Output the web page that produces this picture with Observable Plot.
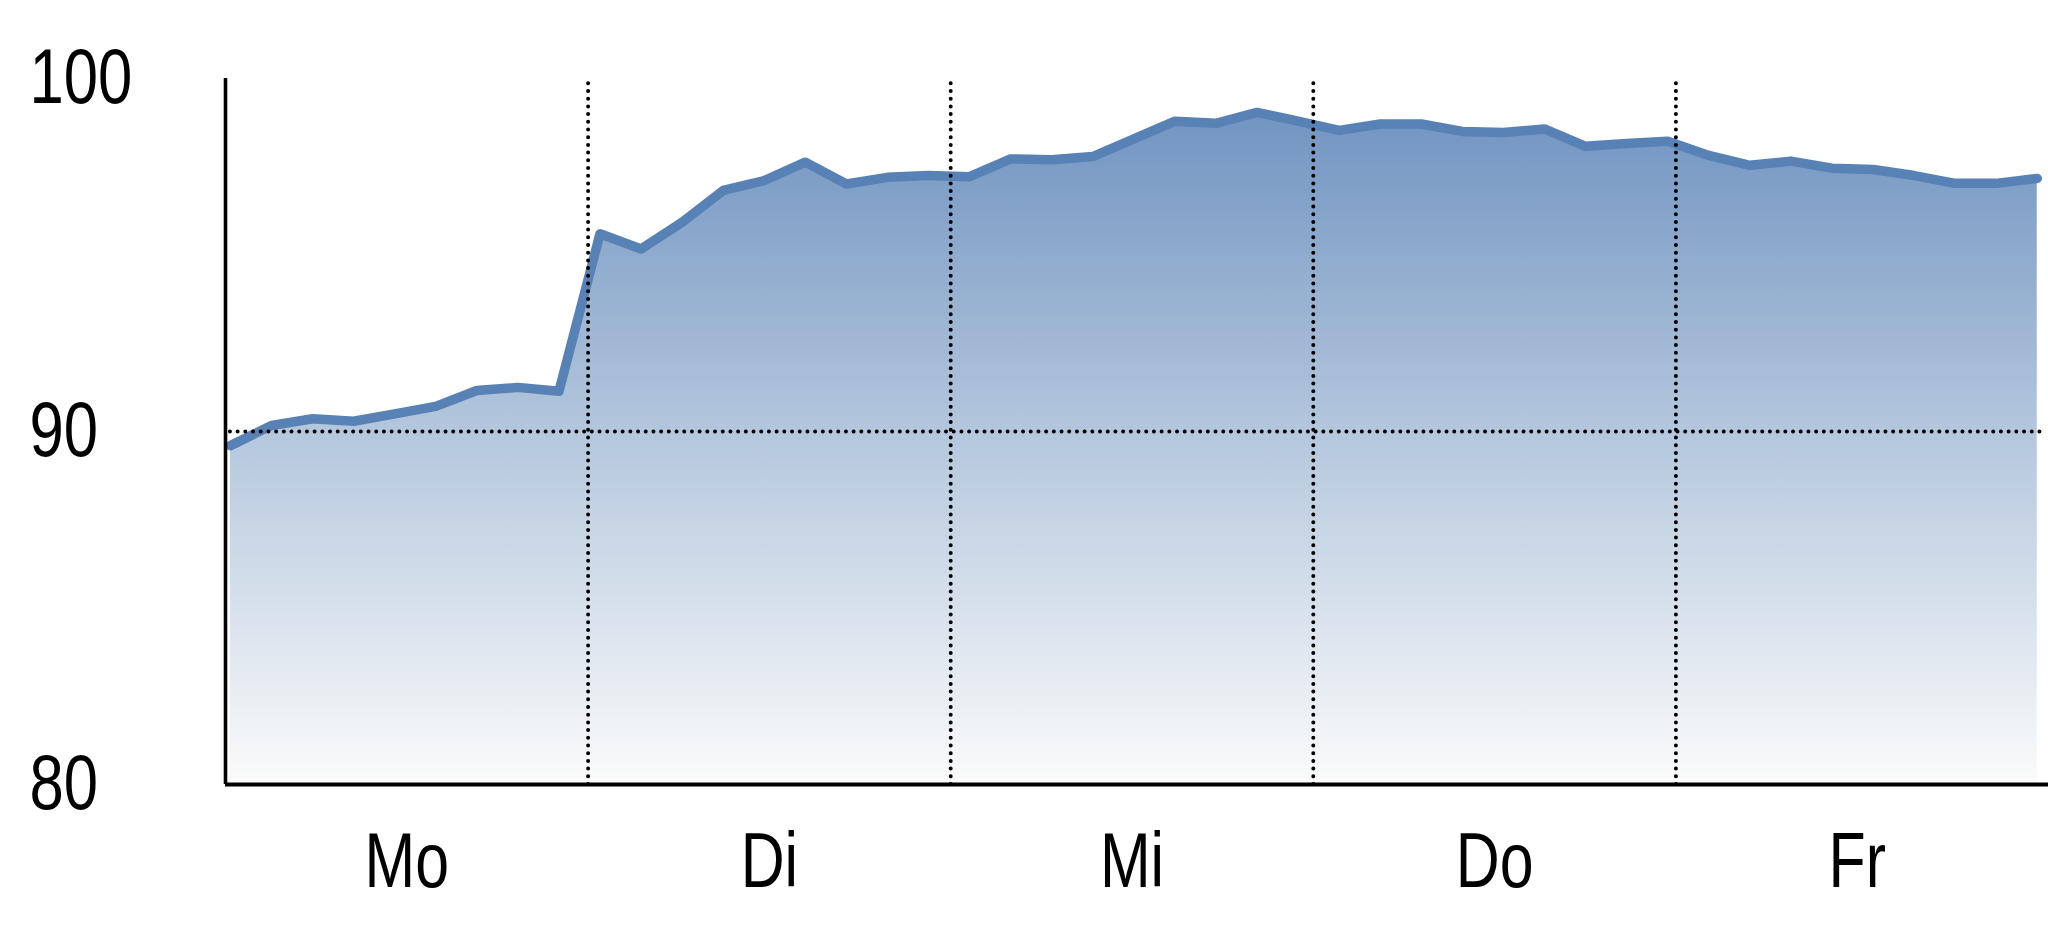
<!DOCTYPE html>
<html><head><meta charset="utf-8">
<script src="https://cdn.jsdelivr.net/npm/d3@7"></script>
<script src="https://cdn.jsdelivr.net/npm/@observablehq/plot@0.6"></script>
<style>
html,body{margin:0;padding:0;background:#fff;overflow:hidden;}
</style></head><body><div id="chart"></div>
<script>
const days = ["Mo", "Di", "Mi", "Do", "Fr"];
const yTicks = [80, 90, 100];
const gridValues = [90];
const values = [
  89.6, 90.17, 90.36, 90.29, 90.5, 90.71, 91.16, 91.25, 91.14,
  95.6, 95.17, 95.93, 96.83, 97.11, 97.63, 97.01, 97.2, 97.25,
  97.22, 97.72, 97.7, 97.79, 98.29, 98.79, 98.73, 99.04, 98.79,
  98.53, 98.71, 98.71, 98.5, 98.47, 98.57, 98.08, 98.16, 98.22,
  97.82, 97.54, 97.66, 97.46, 97.42, 97.25, 97.03, 97.03, 97.17
];
// samples are evenly spaced in time; ~8.83 samples per day
const samplesPerDay = 8.83, firstSample = 0.12;
const data = values.map((v, i) => ({t: (i + firstSample) / samplesPerDay, v}));

const font = "'Liberation Sans', Arial, sans-serif";
const narrow = 0.79;
const dots = {stroke: "#000", strokeWidth: 4, strokeDasharray: "0,7.7", strokeLinecap: "round"};

const chart = Plot.plot({
  width: 2048, height: 937,
  marginLeft: 225, marginRight: 10, marginTop: 78, marginBottom: 153,
  x: {domain: [0, 5], axis: null},
  y: {domain: [80, 100], axis: null},
  style: {fontFamily: font, background: "#fff", color: "#000"},
  marks: [
    (index, scales) => {
      const defs = d3.create("svg:defs");
      const lg = defs.append("linearGradient").attr("id", "areaGrad")
        .attr("gradientUnits", "userSpaceOnUse")
        .attr("x1", 0).attr("x2", 0)
        .attr("y1", scales.y(100)).attr("y2", scales.y(80));
      lg.append("stop").attr("offset", "0%").attr("stop-color", "#6a8fbe");
      lg.append("stop").attr("offset", "55%").attr("stop-color", "#bbcce0");
      lg.append("stop").attr("offset", "100%").attr("stop-color", "#fbfbfb");
      return defs.node();
    },
    Plot.areaY(data, {x: "t", y1: 80, y2: "v", fill: "url(#areaGrad)"}),
    Plot.lineY(data, {x: "t", y: "v", stroke: "#5881b6", strokeWidth: 9.5, strokeLinejoin: "round", strokeLinecap: "round"}),
    Plot.ruleX(d3.range(1, days.length), {y1: 80, y2: 100, ...dots}),
    Plot.ruleY(gridValues, {x1: data[0].t, x2: 5.01, ...dots}),
    Plot.ruleX([0], {y1: 80, y2: 100, stroke: "#000", strokeWidth: 3.6}),
    Plot.ruleY([80], {x1: 0, x2: 5.03, stroke: "#000", strokeWidth: 4}),
    Plot.text(yTicks, {y: d => d, text: d => String(d), frameAnchor: "left", dx: -196, textAnchor: "start", lineAnchor: "middle", fontSize: 78, fill: "#000", className: "narrow"}),
    Plot.text(days, {x: (d, i) => i + 0.5, text: d => d, frameAnchor: "bottom", dy: 78, textAnchor: "middle", lineAnchor: "middle", fontSize: 77, fill: "#000", className: "narrow"})
  ]
});
// emulate a narrow (condensed) typeface by horizontally compressing each label around its anchor
d3.select(chart).selectAll("g.narrow text").each(function() {
  const t = this.getAttribute("transform") || "";
  this.setAttribute("transform", t + ` scale(${narrow},1)`);
});
document.getElementById("chart").appendChild(chart);
</script>
</body></html>
